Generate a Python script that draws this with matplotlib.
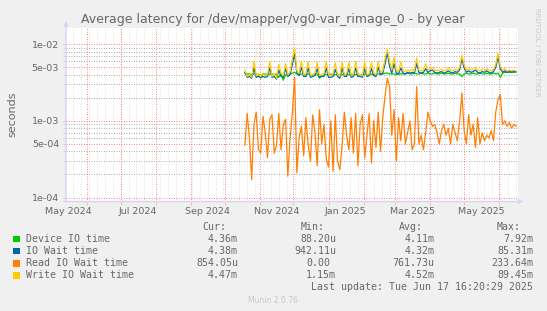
import matplotlib
matplotlib.use("Agg")
import matplotlib.pyplot as plt
import matplotlib.dates as mdates
import matplotlib.ticker as mticker
from matplotlib.patches import Rectangle
import numpy as np

W, H = 547, 311

# samples every 2 days starting 2024-10-19, values in ms (read in us)
start_day = np.datetime64("2024-10-19")
step_days = 2

device_io_ms = [
    4.2, 4.1, 4.1, 4.0, 4.1, 4.1, 4.0, 3.6, 4.1, 4.1,
    4.0, 4.1, 4.1, 4.0, 4.1, 3.7, 4.1, 3.4, 4.0, 4.1,
    4.1, 4.2, 4.3, 4.1, 4.0, 4.1, 4.1, 4.0, 4.1, 3.9,
    4.0, 4.1, 4.1, 3.6, 4.0, 4.1, 4.0, 4.0, 4.1, 4.0,
    4.0, 4.1, 3.9, 4.0, 4.1, 4.0, 4.0, 4.1, 4.0, 4.0,
    4.1, 4.0, 4.0, 4.1, 4.0, 4.0, 4.1, 4.0, 4.0, 4.1,
    4.1, 4.1, 4.2, 4.2, 4.1, 4.1, 4.1, 4.0, 4.1, 4.1,
    4.1, 4.1, 4.2, 4.1, 4.1, 4.2, 4.1, 4.1, 4.2, 4.1,
    4.1, 4.2, 4.1, 4.1, 4.2, 4.1, 4.1, 4.2, 4.1, 4.1,
    4.2, 4.1, 4.1, 4.2, 4.1, 4.1, 3.8, 4.1, 4.2, 4.1,
    4.1, 4.2, 4.1, 4.1, 4.2, 4.1, 4.1, 4.2, 4.1, 4.1,
    4.2, 4.1, 4.2, 3.7, 4.2, 4.3, 4.3, 4.3, 4.4, 4.3,
    4.36,
]
io_wait_ms = [
    4.3, 3.7, 3.8, 3.6, 4.9, 3.7, 3.8, 3.7, 3.8, 3.7,
    3.8, 4.9, 3.7, 3.8, 3.5, 4.6, 3.8, 3.7, 4.8, 3.8,
    4.0, 5.5, 7.5, 4.2, 3.9, 5.0, 3.8, 3.8, 4.9, 3.7,
    3.8, 3.9, 4.8, 3.7, 3.8, 3.8, 4.9, 3.7, 3.7, 3.8,
    4.7, 3.8, 3.6, 4.9, 3.8, 3.8, 4.8, 3.7, 3.8, 4.9,
    3.8, 3.8, 3.7, 4.8, 3.8, 3.9, 4.8, 3.9, 3.8, 5.0,
    4.0, 4.2, 5.5, 7.8, 5.2, 4.2, 5.6, 4.2, 4.1, 4.9,
    4.2, 4.1, 4.3, 4.2, 4.3, 4.2, 5.6, 4.3, 4.2, 4.3,
    4.8, 4.3, 4.5, 4.6, 4.3, 4.2, 4.3, 4.4, 4.2, 4.3,
    4.5, 4.3, 4.2, 4.4, 4.3, 4.6, 6.5, 4.9, 4.3, 4.5,
    4.3, 4.4, 4.6, 4.3, 4.2, 4.4, 4.3, 4.5, 4.3, 4.2,
    4.4, 5.0, 6.8, 4.8, 4.3, 4.5, 4.3, 4.4, 4.3, 4.4,
    4.38,
]
read_wait_us = [
    480, 1250, 600, 170, 900, 1300, 420, 380, 1150, 700,
    330, 1050, 1200, 380, 480, 1250, 420, 900, 1050, 190,
    600, 1300, 3700, 210, 600, 850, 350, 1100, 480, 300,
    1200, 700, 260, 1400, 500, 900, 320, 250, 1000, 220,
    1200, 300, 230, 480, 1300, 650, 420, 1100, 380, 1250,
    260, 900, 1200, 330, 650, 1250, 280, 1000, 450, 1300,
    400, 1100, 2100, 3600, 2800, 650, 1400, 300, 1100, 550,
    1250, 500, 700, 1000, 420, 500, 2800, 500, 650, 420,
    700, 1300, 1000, 850, 900, 700, 500, 750, 900, 650,
    800, 500, 900, 700, 550, 1000, 2300, 750, 500, 1200,
    650, 900, 450, 1100, 500, 700, 550, 650, 600, 750,
    550, 1300, 1900, 2200, 900, 1000, 850, 950, 800, 900,
    854,
]
write_wait_ms = [
    4.6, 3.8, 4.0, 3.7, 6.0, 3.9, 4.1, 3.8, 4.2, 3.9,
    4.0, 6.0, 3.8, 4.1, 3.6, 5.5, 4.2, 3.9, 5.6, 4.0,
    4.4, 6.5, 8.8, 4.5, 4.2, 6.0, 4.0, 4.1, 6.0, 3.9,
    4.0, 4.2, 5.8, 3.9, 4.0, 4.1, 5.9, 4.0, 3.9, 4.1,
    5.7, 4.0, 3.8, 5.9, 4.0, 4.1, 5.8, 3.9, 4.0, 6.0,
    4.1, 4.0, 3.9, 5.9, 4.0, 4.1, 5.8, 4.2, 4.0, 6.0,
    4.3, 4.5, 6.5, 8.6, 6.0, 4.6, 6.8, 4.5, 4.4, 5.9,
    4.5, 4.4, 4.6, 4.5, 4.7, 4.5, 6.6, 4.6, 4.5, 4.6,
    5.6, 4.6, 4.8, 5.0, 4.6, 4.5, 4.6, 4.7, 4.5, 4.6,
    4.9, 4.6, 4.5, 4.7, 4.6, 5.0, 7.2, 5.4, 4.6, 4.8,
    4.6, 4.7, 5.0, 4.6, 4.5, 4.7, 4.6, 4.8, 4.6, 4.5,
    4.7, 5.5, 7.6, 5.2, 4.6, 4.8, 4.5, 4.6, 4.5, 4.6,
    4.47,
]

labels = ["Device IO time", "IO Wait time", "Read IO Wait time", "Write IO Wait time"]
colors = ["#00CC00", "#0066B3", "#FF8000", "#FFCC00"]
cur = ["4.36m", "4.38m", "854.05u", "4.47m"]
mins = ["88.20u", "942.11u", "0.00", "1.15m"]
avgs = ["4.11m", "4.32m", "761.73u", "4.52m"]
maxs = ["7.92m", "85.31m", "233.64m", "89.45m"]

FONT = "#666666"
AXIS = "#CFD6F8"
MINOR = (0.55, 0.55, 0.55, 0.35)
MAJOR = (1.0, 0.35, 0.35, 0.45)


def fx(x):
    return x / W


def fy(y):
    return 1 - y / H


days = start_day + np.arange(len(device_io_ms)) * np.timedelta64(step_days, "D")
series = [
    np.array(device_io_ms) * 1e-3,
    np.array(io_wait_ms) * 1e-3,
    np.array(read_wait_us) * 1e-6,
    np.array(write_wait_ms) * 1e-3,
]

fig = plt.figure(figsize=(W / 100, H / 100), dpi=100, facecolor="#F0F0F0")
ax = fig.add_axes([fx(66), fy(201.5), (518 - 66) / W, (201.5 - 28) / H])
ax.set_facecolor("white")

for s, c in zip(series, colors):
    ax.plot(days, s, color=c, lw=0.9, zorder=3)

ax.set_yscale("log")
ax.set_ylim(8.87e-5, 1.63e-2)
ax.set_xlim(np.datetime64("2024-05-13T16:20"), np.datetime64("2025-06-17T16:20"))

# y ticks / grid
ax.yaxis.set_major_locator(mticker.FixedLocator([1e-4, 5e-4, 1e-3, 5e-3, 1e-2]))
ax.yaxis.set_major_formatter(mticker.FuncFormatter(lambda v, p: f"{v:.0e}"))
ax.yaxis.set_minor_locator(mticker.FixedLocator(
    [m * 10.0 ** e for e in range(-5, -1) for m in (2, 3, 4, 6, 7, 8, 9)]))
ax.yaxis.set_minor_formatter(mticker.NullFormatter())
ax.yaxis.grid(True, which="minor", color=MINOR, ls=(0, (1, 2)), lw=0.6)
ax.yaxis.grid(True, which="major", color=MAJOR, ls=(0, (1, 2)), lw=0.6)

# x: labels mid-month every 2 months, red grid on month starts, grey weekly
ax.xaxis.set_major_locator(mdates.MonthLocator(bymonth=[1, 3, 5, 7, 9, 11], bymonthday=16))
ax.xaxis.set_major_formatter(mdates.DateFormatter("%b %Y"))
ax.xaxis.set_minor_locator(mdates.MonthLocator(bymonthday=1))
ax.xaxis.grid(True, which="minor", color=MAJOR, ls=(0, (1, 2)), lw=0.6)
for wk in np.arange(np.datetime64("2024-05-20"), np.datetime64("2025-06-20"), 7):
    ax.axvline(wk, color=MINOR, ls=(0, (1, 2)), lw=0.6, zorder=0.5)
ax.set_axisbelow(True)

ax.tick_params(axis="x", which="major", length=0, pad=4, labelsize=6.8, labelcolor=FONT)
ax.tick_params(axis="x", which="minor", length=2, color=MAJOR, width=0.6)
ax.tick_params(axis="y", which="major", length=2, color=MAJOR, width=0.6, pad=3,
               labelsize=6.8, labelcolor=FONT)
ax.tick_params(axis="y", which="minor", length=2, color=MINOR, width=0.6)

for sp in ax.spines.values():
    sp.set_visible(False)
arrow = dict(arrowstyle="-|>", color=AXIS, lw=1, mutation_scale=6, shrinkA=0, shrinkB=0)
ax.annotate("", xy=(0, 1.04), xytext=(0, 0), xycoords="axes fraction", arrowprops=arrow)
ax.annotate("", xy=(1.012, 0), xytext=(0, 0), xycoords="axes fraction", arrowprops=arrow)

fig.text(fx(12), fy(114), "seconds", rotation=90, ha="center", va="center", fontsize=8, color=FONT)
fig.text(fx(273), fy(19), "Average latency for /dev/mapper/vg0-var_rimage_0 - by year",
         ha="center", va="center", fontsize=9, color=FONT)
fig.text(fx(537), fy(52), "RRDTOOL / TOBI OETIKER", rotation=270, ha="center", va="center",
         fontsize=5, color="#C8C8C8")

# legend block
mono = dict(family="DejaVu Sans Mono", fontsize=7.15, color=FONT, va="center")
for hx, h in zip([202, 301, 399, 497], ["Cur:", "Min:", "Avg:", "Max:"]):
    fig.text(fx(hx), fy(227.3), h, ha="left", **mono)
rows = [239, 251, 263.3, 275.3]
for i, yy in enumerate(rows):
    fig.add_artist(Rectangle((fx(13), fy(yy + 3.3)), 6.5 / W, 6.5 / H,
                             transform=fig.transFigure, color=colors[i], lw=0))
    fig.text(fx(26), fy(yy), labels[i], ha="left", **mono)
    fig.text(fx(238), fy(yy), cur[i], ha="right", **mono)
    fig.text(fx(336 if mins[i] != "0.00" else 330), fy(yy), mins[i], ha="right", **mono)
    fig.text(fx(434.4), fy(yy), avgs[i], ha="right", **mono)
    fig.text(fx(533), fy(yy), maxs[i], ha="right", **mono)
fig.text(fx(533), fy(287.3), "Last update: Tue Jun 17 16:20:29 2025", ha="right", **mono)
fig.text(fx(273), fy(300.3), "Munin 2.0.76", ha="center", va="center", fontsize=5.5, color="#C8C8C8")

fig.savefig("out.png", dpi=100, facecolor=fig.get_facecolor())
